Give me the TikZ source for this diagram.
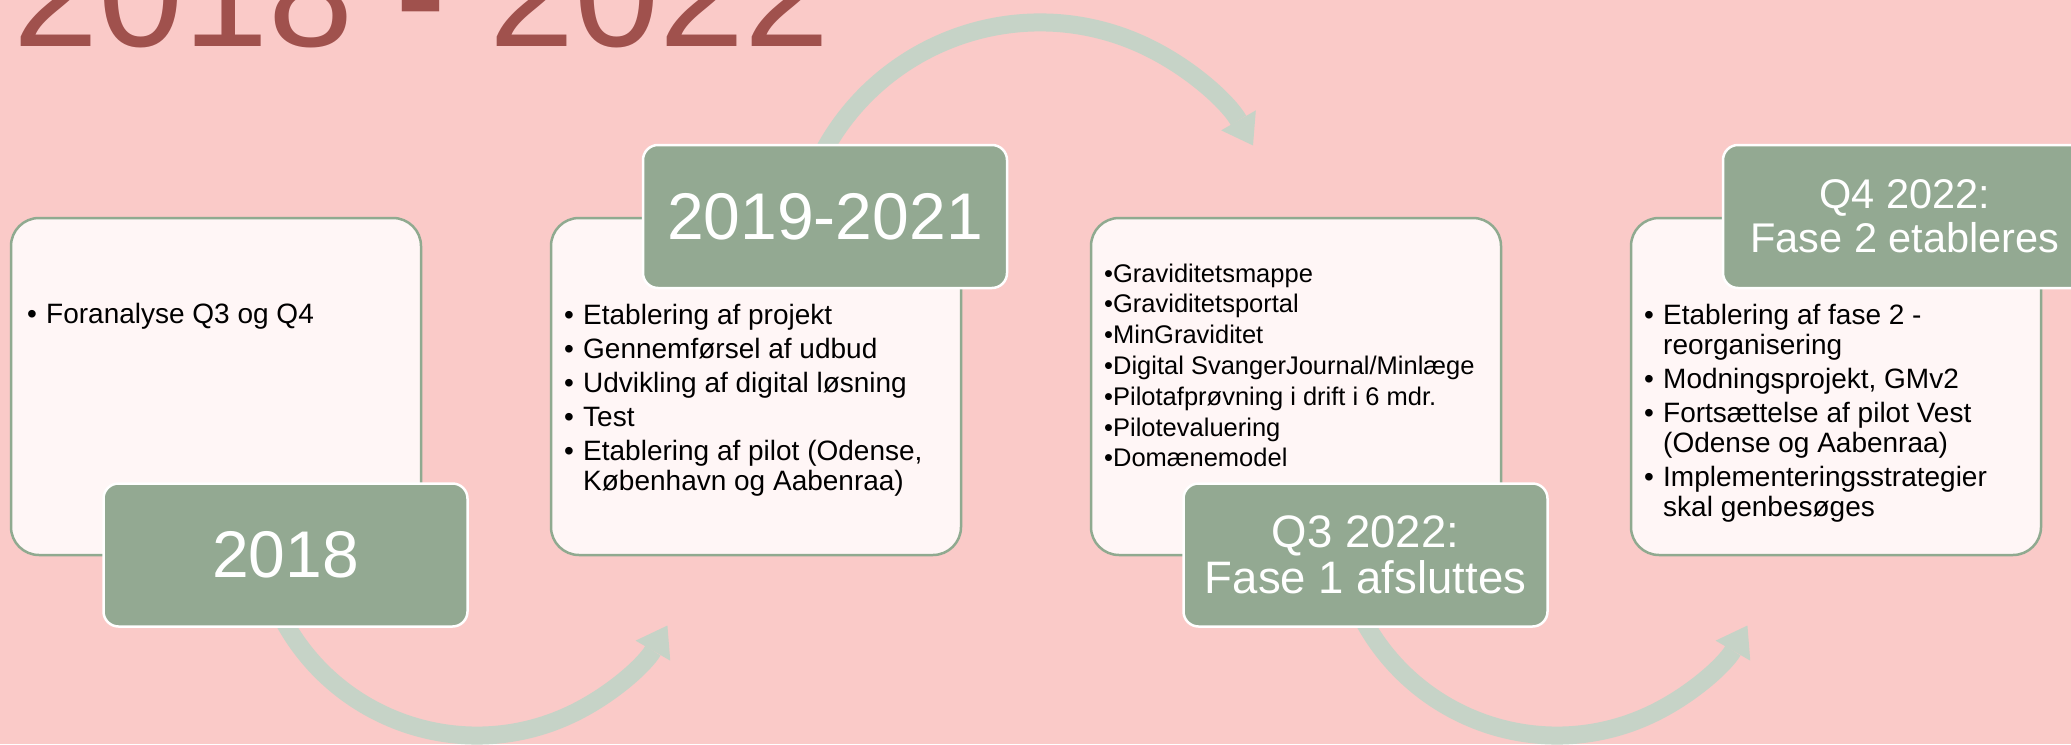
\documentclass[tikz,border=0pt]{standalone}
\usepackage{fontspec}
\setmainfont{Liberation Sans}
\usepackage{tikz}
\usetikzlibrary{arrows.meta}
\usetikzlibrary{backgrounds}

\definecolor{slidepink}{HTML}{FACAC8}
\definecolor{cardfill}{HTML}{FFF6F6}
\definecolor{cardline}{HTML}{90AA90}
\definecolor{tagfill}{HTML}{93A992}
\definecolor{flowgreen}{HTML}{C6D3C7}
\definecolor{titlered}{HTML}{A0514D}

\newcommand{\bul}{\makebox[19pt][l]{\textbullet}}
\newcommand{\cont}{\hspace*{19pt}}

\begin{document}
\begin{tikzpicture}[x=1pt,y=-1pt]
\tikzstyle{card}=[draw=cardline,line width=2.5pt,fill=cardfill,rounded corners=28pt,
                  minimum width=410pt,minimum height=337pt,inner sep=0pt,outer sep=0pt]
\tikzstyle{tag}=[draw=white,line width=2.5pt,fill=tagfill,rounded corners=15pt,text=white,
                 minimum width=364pt,minimum height=143pt,inner sep=0pt,outer sep=0pt,align=center]
\tikzstyle{list}=[anchor=base west,inner sep=0pt,font=\fontsize{28}{30}\selectfont]
\tikzstyle{flow}=[draw=flowgreen,line width=18pt,-{Triangle[width=40pt,length=29pt,line width=0pt]}]
\useasboundingbox (0,0) rectangle (2071,744);

\path
node[anchor=base west,inner sep=0pt,text=titlered,font=\fontsize{153}{153}\selectfont] (title) at (13,46) {2018 - 2022}
node[card] (c1) at (216,386.5) {}
(c1.center) ++ (540,0) node[card] (c2) {}
(c2.center) ++ (540,0) node[card] (c3) {}
(c3.center) ++ (540,0) node[card] (c4) {}
(c1.north west) ++ (16,105) node[list] (l1) {\begin{tabular}[t]{@{}l@{}}
  \bul Foranalyse Q3 og Q4
\end{tabular}}
(c2.north west) ++ (13,106) node[list] (l2) {\begin{tabular}[t]{@{}l@{}}
  \bul Etablering af projekt\\[4pt]
  \bul Gennemførsel af udbud\\[4pt]
  \bul Udvikling af digital løsning\\[4pt]
  \bul Test\\[4pt]
  \bul Etablering af pilot (Odense,\\
  \cont København og Aabenraa)
\end{tabular}}
(c3.north west) ++ (13,64) node[list,font=\fontsize{25.5}{30.8}\selectfont] (l3) {\begin{tabular}[t]{@{}l@{}}
  \textbullet Graviditetsmappe\\
  \textbullet Graviditetsportal\\
  \textbullet MinGraviditet\\
  \textbullet Digital SvangerJournal/Minlæge\\
  \textbullet Pilotafprøvning i drift i 6 mdr.\\
  \textbullet Pilotevaluering\\
  \textbullet Domænemodel
\end{tabular}}
(c4.north west) ++ (13,106) node[list] (l4) {\begin{tabular}[t]{@{}l@{}}
  \bul Etablering af fase 2 -\\
  \cont reorganisering\\[4pt]
  \bul Modningsprojekt, GMv2\\[4pt]
  \bul Fortsættelse af pilot Vest\\
  \cont (Odense og Aabenraa)\\[4pt]
  \bul Implementeringsstrategier\\
  \cont skal genbesøges
\end{tabular}}
(c1.south) ++ (69.5,0) node[tag,font=\fontsize{66}{66}\selectfont] (lab1) {2018}
(c2.north) ++ (69,-1.5) node[tag,font=\fontsize{66}{66}\selectfont] (lab2) {2019-2021}
(c3.south) ++ (69.5,0) node[tag,font=\fontsize{45.5}{46}\selectfont] (lab3) {Q3 2022:\\Fase 1 afsluttes}
(c4.north) ++ (69,-1.5) node[tag,font=\fontsize{41.5}{44}\selectfont] (lab4) {Q4 2022:\\Fase 2 etableres};

% arrows behind the boxes
\begin{scope}[on background layer]
\fill[slidepink] (0,0) rectangle (2071,744);
\path[flow] (lab1.south) ++ (-8,-18) arc[start angle=205,end angle=330,radius=220pt];
\path[flow] (lab2.north) ++ (-8,19.5) arc[start angle=155,end angle=30,radius=246pt];
\path[flow] (lab3.south) ++ (-8,-18) arc[start angle=205,end angle=330,radius=220pt];
\end{scope}
\end{tikzpicture}
\end{document}
